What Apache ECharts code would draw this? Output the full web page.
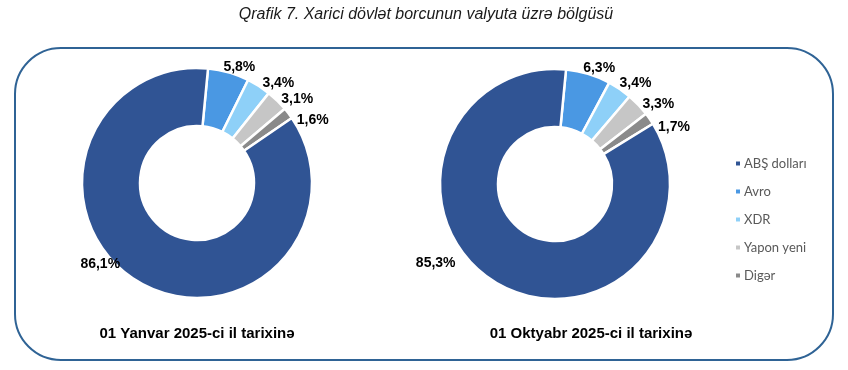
<!DOCTYPE html>
<html>
<head>
<meta charset="utf-8">
<script src="https://cdn.jsdelivr.net/npm/echarts@6/dist/echarts.min.js"></script>
<style>
html,body{margin:0;padding:0;background:#fff;}
#c{width:848px;height:370px;}
</style>
</head>
<body>
<div id="c"></div>
<script>
const categories = ['ABŞ dolları', 'Avro', 'XDR', 'Yapon yeni', 'Digər'];
const valuesJan2025 = [86.1, 5.8, 3.4, 3.1, 1.6];
const valuesOct2025 = [85.3, 6.3, 3.4, 3.3, 1.7];
const colors = ['#305494', '#4a98e3', '#8ed0f8', '#c6c6c6', '#8a8a8a'];
const chartTitle = 'Qrafik 7. Xarici dövlət borcunun valyuta üzrə bölgüsü';
const captions = ['01 Yanvar 2025-ci il tarixinə', '01 Oktyabr 2025-ci il tarixinə'];

// label nudges (style only), per category
const labelNudgeJan = [[-15, -21], [-8, -2], [0, 0], [0, 1], [4, 9]];
const labelNudgeOct = [[-35, -21], [-8, -3], [-4, -3], [0, 2], [4, 10]];

// drawing order: small shares first (clockwise from near 12 o'clock), USD last
const drawOrder = [1, 2, 3, 4, 0];

function buildData(vals, nudges) {
  return drawOrder.map(i => ({
    name: categories[i],
    value: vals[i],
    itemStyle: { color: colors[i] },
    label: { offset: nudges[i] }
  }));
}

function pieSeries(vals, center, nudges) {
  return {
    type: 'pie',
    center: center,
    radius: [57, 115],
    startAngle: 84.5,
    clockwise: true,
    avoidLabelOverlap: false,
    silent: true,
    itemStyle: { borderColor: '#ffffff', borderWidth: 2.5 },
    label: {
      show: true,
      position: 'outside',
      formatter: p => p.value.toFixed(1).replace('.', ',') + '%',
      fontFamily: 'Liberation Sans, Arial, sans-serif',
      fontWeight: 'bold',
      fontSize: 14,
      color: '#000',
      distanceToLabelLine: 2
    },
    labelLine: { show: false, length: 3, length2: 0 },
    data: buildData(vals, nudges)
  };
}

const chart = echarts.init(document.getElementById('c'), null, { renderer: 'canvas' });
chart.setOption({
  animation: false,
  backgroundColor: '#ffffff',
  color: colors,
  title: [
    { text: chartTitle, left: 421, top: 2, textAlign: 'center',
      textStyle: { fontFamily: 'Liberation Sans, Arial, sans-serif', fontStyle: 'italic', fontWeight: 'normal', fontSize: 16, color: '#1a1a1a' } },
    { text: captions[0], left: 192, top: 321, textAlign: 'center',
      textStyle: { fontFamily: 'Liberation Sans, Arial, sans-serif', fontWeight: 'bold', fontSize: 15, color: '#000' } },
    { text: captions[1], left: 586, top: 321, textAlign: 'center',
      textStyle: { fontFamily: 'Liberation Sans, Arial, sans-serif', fontWeight: 'bold', fontSize: 15, color: '#000' } }
  ],
  legend: {
    orient: 'vertical',
    left: 729,
    top: 151,
    itemWidth: 6,
    itemHeight: 6,
    itemGap: 13,
    icon: 'rect',
    data: categories,
    textStyle: { fontFamily: 'Lato, Open Sans, sans-serif', fontSize: 13, color: '#595959', padding: [0, 0, 0, -2], lineHeight: 15 }
  },
  graphic: [{
    type: 'rect',
    shape: { x: 15, y: 48, width: 818, height: 312, r: 46 },
    style: { fill: 'none', stroke: '#2f6395', lineWidth: 2 },
    silent: true,
    z: -1
  }],
  series: [
    pieSeries(valuesJan2025, [197, 183], labelNudgeJan),
    pieSeries(valuesOct2025, [555, 184], labelNudgeOct)
  ]
});
</script>
</body>
</html>
